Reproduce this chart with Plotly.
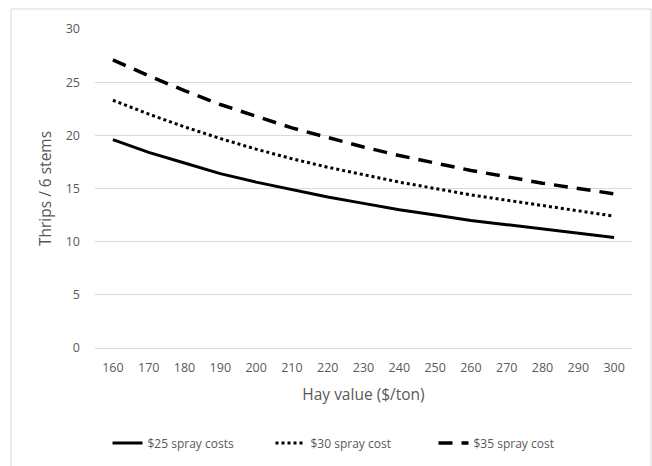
import plotly.graph_objects as go

hay_values = [160, 170, 180, 190, 200, 210, 220, 230, 240, 250, 260, 270, 280, 290, 300]
spray25 = [19.6, 18.4, 17.4, 16.4, 15.6, 14.9, 14.2, 13.6, 13.0, 12.5, 12.0, 11.6, 11.2, 10.8, 10.4]
spray30 = [23.3, 22.0, 20.8, 19.7, 18.7, 17.8, 17.0, 16.3, 15.6, 15.0, 14.4, 13.9, 13.4, 12.9, 12.4]
spray35 = [27.1, 25.6, 24.2, 22.9, 21.8, 20.7, 19.8, 18.9, 18.1, 17.4, 16.7, 16.1, 15.5, 15.0, 14.5]
names = ["$25 spray costs", "$30 spray cost", "$35 spray cost"]

x = [str(v) for v in hay_values]
fig = go.Figure()
fig.add_trace(go.Scatter(x=x, y=spray25, mode="lines", name=names[0],
                         line=dict(color="black", width=3)))
fig.add_trace(go.Scatter(x=x, y=spray30, mode="lines", name=names[1],
                         line=dict(color="black", width=3, dash="dot")))
fig.add_trace(go.Scatter(x=x, y=spray35, mode="lines", name=names[2],
                         line=dict(color="black", width=3.5, dash="14px,9px")))

W, H = 652, 466
L, R, T, B = 95, 20, 29, 118
pw, ph = W - L - R, H - T - B
fig.add_shape(type="rect", xref="paper", yref="paper",
              x0=(11 - L) / pw, x1=(651 - L) / pw,
              y0=(H - B - 480) / ph, y1=(H - B - 9) / ph,
              line=dict(color="#d9d9d9", width=1), fillcolor="rgba(0,0,0,0)", layer="below")

font = "Open Sans, Noto Sans, sans-serif"
fig.update_layout(
    width=W, height=H,
    margin=dict(l=L, r=R, t=T, b=B, autoexpand=False),
    paper_bgcolor="white", plot_bgcolor="white",
    font=dict(family=font, color="#595959", size=13),
    xaxis=dict(type="category", range=[-0.5, len(x) - 0.5], showgrid=False, showline=False, ticks="",
               ticklabelstandoff=10, automargin=False,
               tickfont=dict(size=12.5, color="#595959"),
               title=dict(text="Hay value ($/ton)", font=dict(size=15.5, color="#595959"), standoff=14)),
    yaxis=dict(range=[0, 30], dtick=5, showgrid=True, gridcolor="#d9d9d9", gridwidth=1,
               zeroline=True, zerolinecolor="#d9d9d9", zerolinewidth=1, showline=False,
               ticks="", ticklabelstandoff=14, automargin=False,
               tickfont=dict(size=12.5, color="#595959"),
               title=dict(text="Thrips / 6 stems", font=dict(size=15.5, color="#595959"), standoff=10)),
    legend=dict(orientation="h", x=(352 - L) / pw, xanchor="center",
                y=(H - B - 443) / ph, yanchor="middle",
                font=dict(size=12, color="#595959"), entrywidth=118, entrywidthmode="pixels",
                bgcolor="rgba(0,0,0,0)"),
    showlegend=True,
)
fig.write_html("out.html")
